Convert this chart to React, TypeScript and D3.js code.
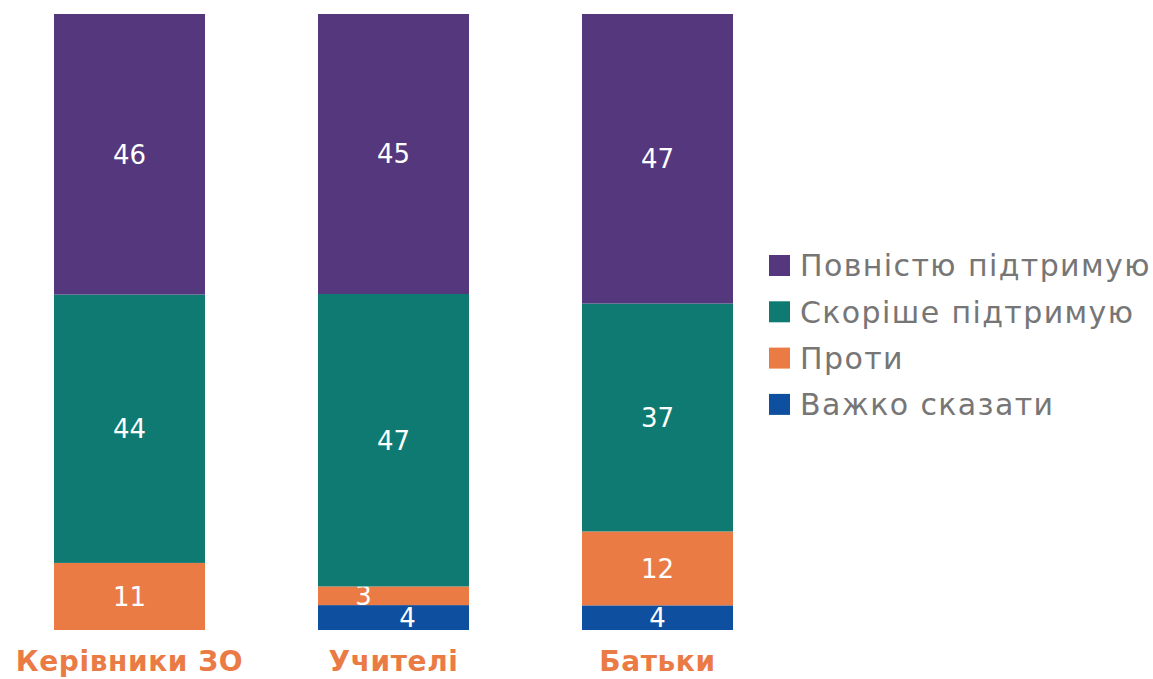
import React from "react";
import * as d3 from "d3";

const categories = ["Керівники ЗО", "Учителі", "Батьки"];
const seriesNames = ["Важко сказати", "Проти", "Скоріше підтримую", "Повністю підтримую"];
const hardToSay = [0, 4, 4];
const against = [11, 3, 12];
const ratherSupport = [44, 47, 37];
const fullySupport = [46, 45, 47];
const colors = ["#0f4fa0", "#eb7b45", "#0e7a72", "#55377e"];
const legendOrder = ["Повністю підтримую", "Скоріше підтримую", "Проти", "Важко сказати"];

const nudges: Record<string, number> = { "Учителі|Проти": -30, "Учителі|Важко сказати": 14 };

const W = 1153, H = 679;
const FONT = "'DejaVu Sans', sans-serif";

export default function App() {
  const rows = categories.map((c, i) => ({
    cat: c,
    "Важко сказати": hardToSay[i],
    "Проти": against[i],
    "Скоріше підтримую": ratherSupport[i],
    "Повністю підтримую": fullySupport[i],
  }));
  const stack = d3.stack<any>().keys(seriesNames).offset(d3.stackOffsetExpand);
  const layers = stack(rows);
  const xs = d3
    .scaleBand()
    .domain(categories)
    .range([54 - 56.5, 54 - 56.5 + 264 * 3])
    .paddingInner(113 / 264)
    .paddingOuter(113 / 264 / 2);
  const y = d3.scaleLinear().domain([0, 1]).range([630, 14]);
  const color = d3.scaleOrdinal<string, string>().domain(seriesNames).range(colors);

  return (
    <svg width={W} height={H} style={{ position: "absolute", left: 0, top: 0, background: "#fff" }}>
      {layers.map((layer) => (
        <g key={layer.key} fill={color(layer.key)}>
          {layer.map((d, i) => {
            const v = (d.data as any)[layer.key];
            if (!v) return null;
            const bx = xs(categories[i])!;
            const bw = xs.bandwidth();
            const y0 = y(d[0]), y1 = y(d[1]);
            const dx = nudges[`${categories[i]}|${layer.key}`] || 0;
            return (
              <g key={i}>
                <rect x={bx} y={y1} width={bw} height={y0 - y1} />
                <text
                  x={bx + bw / 2 + dx}
                  y={(y0 + y1) / 2}
                  dy="0.36em"
                  textAnchor="middle"
                  fill="#fff"
                  fontFamily={FONT}
                  fontSize={26}
                >
                  {v}
                </text>
              </g>
            );
          })}
        </g>
      ))}
      {categories.map((c) => (
        <text
          key={c}
          x={xs(c)! + xs.bandwidth() / 2}
          y={671}
          textAnchor="middle"
          fill="#eb7b45"
          fontFamily={FONT}
          fontWeight="bold"
          fontSize={28}
          letterSpacing={0.6}
        >
          {c}
        </text>
      ))}
      {legendOrder.map((name, i) => (
        <g key={name} transform={`translate(769, ${255 + i * 46.3})`}>
          <rect width={21} height={21} fill={color(name)} />
          <text
            x={31}
            y={10.5}
            dy="0.36em"
            fill="#767676"
            fontFamily={FONT}
            fontSize={30}
            letterSpacing={1.4}
          >
            {name}
          </text>
        </g>
      ))}
    </svg>
  );
}
